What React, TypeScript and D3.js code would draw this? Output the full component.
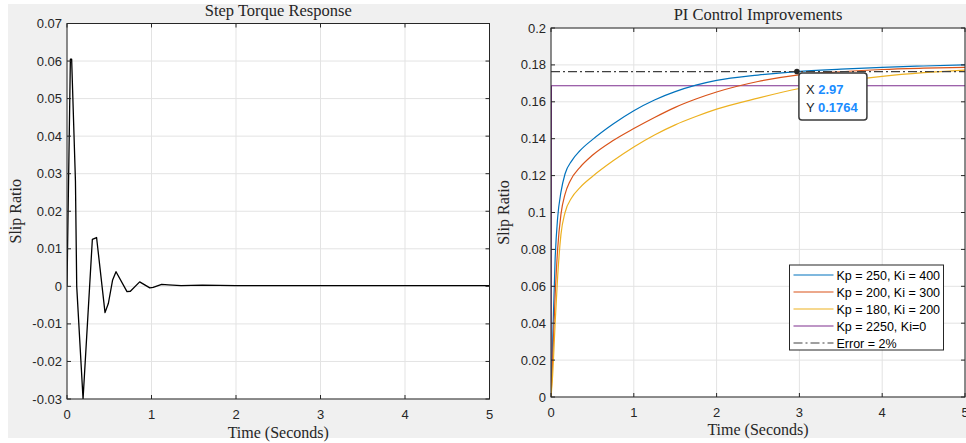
import React from "react";
import * as d3 from "d3";

// ---------- data ----------
const stepT = [0, 0.04, 0.055, 0.1, 0.115, 0.19, 0.3, 0.35, 0.45, 0.49, 0.54, 0.58, 0.71, 0.75, 0.86, 0.98, 1.02, 1.12, 1.2, 1.35, 1.6, 2, 3, 4, 5];
const stepY = [0, 0.0605, 0.0605, 0.028, 0.0, -0.03, 0.0125, 0.013, -0.007, -0.0045, 0.0017, 0.0039, -0.0014, -0.0013, 0.0012, -0.0004, -0.0003, 0.0005, 0.0004, 0.0002, 0.0003, 0.0002, 0.0002, 0.0002, 0.0002];

const blueT = [0, 0.02, 0.05, 0.08, 0.12, 0.17, 0.25, 0.35, 0.5, 0.75, 1.0, 1.25, 1.5, 1.75, 2.0, 2.5, 2.97, 3.5, 4.0, 4.5, 5];
const blueY = [0, 0.03, 0.075, 0.097, 0.111, 0.121, 0.128, 0.1335, 0.1395, 0.148, 0.1552, 0.161, 0.1655, 0.169, 0.1716, 0.1745, 0.1764, 0.1777, 0.1787, 0.1794, 0.18];

const redT = [0, 0.02, 0.05, 0.08, 0.12, 0.17, 0.23, 0.35, 0.5, 0.75, 1.0, 1.25, 1.5, 1.75, 2.0, 2.5, 2.97, 3.5, 4.0, 4.5, 5];
const redY = [0, 0.02, 0.055, 0.08, 0.099, 0.11, 0.117, 0.1245, 0.131, 0.139, 0.1455, 0.1515, 0.157, 0.1615, 0.1653, 0.171, 0.1745, 0.1763, 0.1775, 0.1782, 0.1787];

const yellowT = [0, 0.02, 0.05, 0.08, 0.12, 0.17, 0.25, 0.35, 0.5, 0.75, 1.0, 1.25, 1.5, 1.75, 2.0, 2.5, 3.0, 3.5, 4.0, 4.5, 5];
const yellowY = [0, 0.012, 0.04, 0.065, 0.088, 0.1, 0.108, 0.1135, 0.1195, 0.128, 0.1355, 0.142, 0.1475, 0.152, 0.156, 0.162, 0.1672, 0.171, 0.1738, 0.1758, 0.1772];

const purpleT = [0, 0.005, 5];
const purpleY = [0, 0.1687, 0.1687];

const errorT = [0, 5];
const errorY = [0.1764, 0.1764];

const legendLabels = ["Kp = 250, Ki = 400", "Kp = 200, Ki = 300", "Kp = 180, Ki = 200", "Kp = 2250, Ki=0", "Error = 2%"];
const xTicks = [0, 1, 2, 3, 4, 5];
const leftYTicks = [-0.03, -0.02, -0.01, 0, 0.01, 0.02, 0.03, 0.04, 0.05, 0.06, 0.07];
const rightYTicks = [0, 0.02, 0.04, 0.06, 0.08, 0.1, 0.12, 0.14, 0.16, 0.18, 0.2];
const tipX = 2.97;
const tipY = 0.1764;

// ---------- styles ----------
const AX = "#262626";
const GRID = "#e3e3e3";
const SANS = "'Liberation Sans', Arial, sans-serif";
const SERIF = "'Liberation Serif', 'Times New Roman', serif";
const COLORS = ["#0072BD", "#D95319", "#EDB120", "#7E2F8E", "#404040"];

const fmt = (v: number) => String(+v.toFixed(2));

type Panel = {
  x0: number; x1: number; y0: number; y1: number;
  yDomain: [number, number]; yTicks: number[];
  title: string; titleY: number; xLabelY: number; yLabelX: number; id: string;
};

function Axes({ p, children }: { p: Panel; children: (x: d3.ScaleLinear<number, number>, y: d3.ScaleLinear<number, number>) => React.ReactNode }) {
  const x = d3.scaleLinear().domain([0, 5]).range([p.x0, p.x1]);
  const y = d3.scaleLinear().domain(p.yDomain).range([p.y1, p.y0]);
  const tl = 4;
  return (
    <g>
      <rect x={p.x0} y={p.y0} width={p.x1 - p.x0} height={p.y1 - p.y0} fill="#fff" />
      {xTicks.map((t) => (
        <line key={"gx" + t} x1={x(t)} x2={x(t)} y1={p.y0} y2={p.y1} stroke={GRID} strokeWidth={1} />
      ))}
      {p.yTicks.map((t) => (
        <line key={"gy" + t} x1={p.x0} x2={p.x1} y1={y(t)} y2={y(t)} stroke={GRID} strokeWidth={1} />
      ))}
      <clipPath id={"clip" + p.id}>
        <rect x={p.x0} y={p.y0} width={p.x1 - p.x0} height={p.y1 - p.y0} />
      </clipPath>
      <g clipPath={`url(#clip${p.id})`}>{children(x, y)}</g>
      <rect x={p.x0} y={p.y0} width={p.x1 - p.x0} height={p.y1 - p.y0} fill="none" stroke={AX} strokeWidth={1} />
      {xTicks.map((t) => (
        <g key={"tx" + t}>
          <line x1={x(t)} x2={x(t)} y1={p.y1} y2={p.y1 - tl} stroke={AX} />
          <line x1={x(t)} x2={x(t)} y1={p.y0} y2={p.y0 + tl} stroke={AX} />
          <text x={x(t)} y={p.y1 + 20} textAnchor="middle" fontFamily={SANS} fontSize={13} fill={AX}>{t}</text>
        </g>
      ))}
      {p.yTicks.map((t) => (
        <g key={"ty" + t}>
          <line x1={p.x0} x2={p.x0 + tl} y1={y(t)} y2={y(t)} stroke={AX} />
          <line x1={p.x1} x2={p.x1 - tl} y1={y(t)} y2={y(t)} stroke={AX} />
          <text x={p.x0 - 5} y={y(t) + 4.5} textAnchor="end" fontFamily={SANS} fontSize={13} fill={AX}>{fmt(t)}</text>
        </g>
      ))}
      <text x={(p.x0 + p.x1) / 2} y={p.titleY} textAnchor="middle" fontFamily={SERIF} fontSize={16.5} fill={AX}>{p.title}</text>
      <text x={(p.x0 + p.x1) / 2} y={p.xLabelY} textAnchor="middle" fontFamily={SERIF} fontSize={16} fill={AX}>Time (Seconds)</text>
      <text transform={`translate(${p.yLabelX},${(p.y0 + p.y1) / 2}) rotate(-90)`} textAnchor="middle" fontFamily={SERIF} fontSize={16} fill={AX}>Slip Ratio</text>
    </g>
  );
}

const mkLine = (x: d3.ScaleLinear<number, number>, y: d3.ScaleLinear<number, number>, ts: number[], vs: number[], smooth = false) =>
  d3.line<number>().x((_, i) => x(ts[i])).y((v) => y(v)).curve(smooth ? d3.curveMonotoneX : d3.curveLinear)(vs) || "";

export default function App() {
  const left: Panel = { x0: 67, x1: 489.5, y0: 23.5, y1: 399, yDomain: [-0.03, 0.07], yTicks: leftYTicks, title: "Step Torque Response", titleY: 16, xLabelY: 438, yLabelX: 21, id: "L" };
  const right: Panel = { x0: 551, x1: 965, y0: 28, y1: 397, yDomain: [0, 0.2], yTicks: rightYTicks, title: "PI Control Improvements", titleY: 20, xLabelY: 435, yLabelX: 509, id: "R" };
  const series = [
    { t: blueT, v: blueY },
    { t: redT, v: redY },
    { t: yellowT, v: yellowY },
  ];
  const rx = d3.scaleLinear().domain([0, 5]).range([right.x0, right.x1]);
  const ry = d3.scaleLinear().domain(right.yDomain).range([right.y1, right.y0]);
  const lgX = 789.5, lgY = 265, lgW = 154, lgH = 85, rowH = 17;
  const tipPx = rx(tipX), tipPy = ry(tipY);
  return (
    <svg width={966} height={443} style={{ position: "absolute", left: 0, top: 0 }}>
      <rect x={0} y={0} width={966} height={443} fill="#fff" />
      <rect x={8} y={4} width={958} height={434} fill="#f0f0f0" />
      <Axes p={left}>
        {(x, y) => <path d={mkLine(x, y, stepT, stepY)} fill="none" stroke="#000" strokeWidth={1.3} strokeLinejoin="round" />}
      </Axes>
      <Axes p={right}>
        {(x, y) => (
          <g>
            <path d={mkLine(x, y, purpleT, purpleY)} fill="none" stroke={COLORS[3]} strokeWidth={1.2} />
            {series.map((s, i) => (
              <path key={i} d={mkLine(x, y, s.t, s.v, true)} fill="none" stroke={COLORS[i]} strokeWidth={1.2} />
            ))}
            <path d={mkLine(x, y, errorT, errorY)} fill="none" stroke={COLORS[4]} strokeWidth={1.3} strokeDasharray="9,3,2,3" />
          </g>
        )}
      </Axes>
      {/* data tip */}
      <circle cx={tipPx} cy={tipPy} r={2.8} fill="#262626" />
      <rect x={tipPx + 2} y={tipPy + 1.5} width={68} height={47} rx={3} fill="#fff" stroke="#3a3a3a" strokeWidth={1.5} />
      <text x={tipPx + 9} y={tipPy + 22} fontFamily={SANS} fontSize={13} fill={AX}>X <tspan fill="#1a8cff" fontWeight="bold">{tipX}</tspan></text>
      <text x={tipPx + 9} y={tipPy + 40} fontFamily={SANS} fontSize={13} fill={AX}>Y <tspan fill="#1a8cff" fontWeight="bold">{tipY}</tspan></text>
      {/* legend */}
      <rect x={lgX} y={lgY} width={lgW} height={lgH} fill="#fff" stroke={AX} strokeWidth={1} />
      {legendLabels.map((lab, i) => {
        const yy = lgY + 10 + i * rowH;
        return (
          <g key={lab}>
            <line x1={lgX + 4} x2={lgX + 44} y1={yy} y2={yy} stroke={COLORS[i]} strokeWidth={1.2} strokeDasharray={i === 4 ? "9,3,2,3" : undefined} />
            <text x={lgX + 47} y={yy + 4.5} fontFamily={SANS} fontSize={12.5} fill="#000">{lab}</text>
          </g>
        );
      })}
    </svg>
  );
}
